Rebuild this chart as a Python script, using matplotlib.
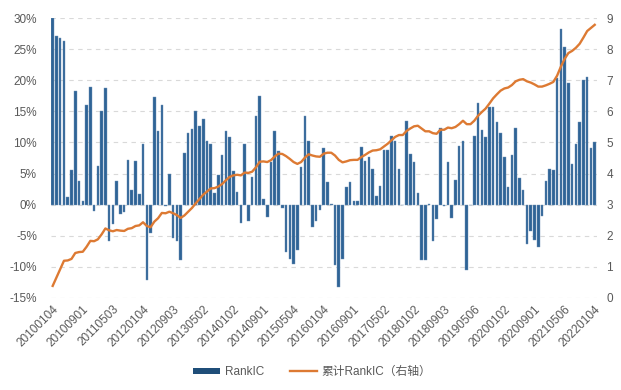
import matplotlib
matplotlib.use("Agg")
import matplotlib.pyplot as plt
import numpy as np
from matplotlib.lines import Line2D
from matplotlib.patches import Patch

plt.rcParams['font.family'] = ['Liberation Sans', 'Noto Sans CJK SC', 'DejaVu Sans']

# Monthly RankIC (%) from 2010-01 to 2022-01
rankic = [
    30.0, 27.2, 26.9, 26.4, 1.2, 5.5, 18.3, 3.8, 0.6, 16.1,
    18.9, -1.1, 6.2, 15.1, 18.7, -5.8, -3.2, 3.8, -1.5, -1.2,
    7.2, 2.3, 7.0, 1.7, 9.7, -12.1, -4.5, 17.4, 11.8, 16.1,
    -0.2, 4.9, -5.4, -5.9, -9.0, 8.3, 11.5, 12.2, 15.1, 12.7,
    13.8, 10.3, 9.8, 1.8, 4.8, 8.0, 11.9, 10.9, 5.4, 2.0,
    -2.9, 9.7, -2.7, 4.4, 14.2, 17.5, 0.9, -2.0, 6.9, 11.9,
    8.6, -0.6, -7.7, -8.7, -9.6, -7.3, 6.0, 14.2, 10.3, -3.6,
    -2.7, -0.8, 9.1, 3.6, 0.1, -9.7, -13.3, -8.7, 2.8, 3.7,
    0.5, 0.6, 9.3, 7.0, 7.7, 5.7, 1.3, 3.0, 8.8, 8.8,
    11.0, 10.3, 5.7, 0.0, 13.4, 8.2, 6.8, 1.9, -8.9, -8.9,
    0.1, -5.9, -2.3, 12.4, -0.3, 6.8, -2.1, 3.9, 9.5, 10.3,
    -10.5, -0.1, 11.1, 16.3, 12.0, 10.9, 15.7, 15.7, 13.3, 11.6,
    7.6, 2.8, 8.0, 12.3, 4.2, 2.3, -6.4, -4.3, -5.7, -6.9,
    -1.8, 3.8, 5.8, 5.5, 20.4, 28.3, 25.3, 19.5, 6.5, 9.7,
    13.3, 20.1, 20.6, 9.1, 10.0,
]

# Cumulative RankIC (right axis)
cum_rankic = [
    0.38, 0.65, 0.92, 1.19, 1.20, 1.25, 1.44, 1.47, 1.48, 1.64,
    1.83, 1.82, 1.88, 2.04, 2.23, 2.17, 2.14, 2.18, 2.16, 2.15,
    2.22, 2.24, 2.31, 2.33, 2.43, 2.31, 2.27, 2.45, 2.56, 2.73,
    2.72, 2.77, 2.72, 2.66, 2.57, 2.65, 2.77, 2.89, 3.04, 3.18,
    3.32, 3.42, 3.52, 3.53, 3.58, 3.66, 3.78, 3.89, 3.94, 3.96,
    3.94, 4.03, 4.02, 4.06, 4.20, 4.38, 4.39, 4.37, 4.43, 4.55,
    4.64, 4.63, 4.56, 4.47, 4.37, 4.31, 4.37, 4.51, 4.62, 4.58,
    4.55, 4.54, 4.64, 4.67, 4.67, 4.58, 4.44, 4.36, 4.39, 4.43,
    4.44, 4.44, 4.53, 4.60, 4.68, 4.74, 4.75, 4.78, 4.87, 4.96,
    5.07, 5.18, 5.24, 5.24, 5.37, 5.45, 5.52, 5.54, 5.45, 5.36,
    5.36, 5.30, 5.28, 5.41, 5.41, 5.48, 5.46, 5.50, 5.59, 5.70,
    5.59, 5.59, 5.70, 5.86, 5.98, 6.09, 6.25, 6.42, 6.55, 6.67,
    6.74, 6.77, 6.85, 6.97, 7.02, 7.04, 6.97, 6.93, 6.87, 6.80,
    6.80, 6.84, 6.89, 6.95, 7.15, 7.44, 7.69, 7.88, 7.95, 8.05,
    8.18, 8.38, 8.59, 8.69, 8.79,
]

tick_labels = [
    "20100104", "20100901", "20110503", "20120104", "20120903",
    "20130502", "20140102", "20140901", "20150504", "20160104",
    "20160901", "20170502", "20180102", "20180903", "20190506",
    "20200102", "20200901", "20210506", "20220104",
]

x = np.arange(len(rankic))
bar_color = '#2F6496'
line_color = '#DD7A33'
txt_color = '#595959'
fs = 8.5

fig = plt.figure(figsize=(6.21, 3.90), dpi=100)
ax = fig.add_axes([50.8 / 621, 1 - 297.7 / 390, (596.6 - 50.8) / 621, (297.7 - 18.3) / 390])
ax2 = ax.twinx()

ax.bar(x, np.array(rankic) / 100.0, width=0.68, color=bar_color,
       edgecolor='#6F93B8', linewidth=0.3, zorder=2)
ax2.plot(x, cum_rankic, color=line_color, lw=1.7, zorder=3)

ax.set_xlim(-0.5, len(rankic) - 0.5)
ax.set_ylim(-0.15, 0.30)
ax2.set_ylim(0, 9)

yt = np.arange(-0.15, 0.301, 0.05)
ax.set_yticks(yt)
ax.set_yticklabels([f"{int(round(v * 100))}%" for v in yt])
ax2.set_yticks(range(0, 10))

ax.yaxis.grid(True, linestyle=(0, (4, 4)), color='#D9D9D9', lw=0.8, zorder=0)
ax.set_axisbelow(True)

for a in (ax, ax2):
    for s in a.spines.values():
        s.set_visible(False)
    a.tick_params(length=0, colors=txt_color, labelsize=fs)

ax.tick_params(axis='y', pad=10)
ax2.tick_params(axis='y', pad=7)

tick_pos = list(range(0, len(rankic), 8))
ax.set_xticks(tick_pos)
ax.set_xticklabels(tick_labels, rotation=45, ha='right', rotation_mode='anchor')
ax.tick_params(axis='x', pad=4)

ax.set_zorder(ax2.get_zorder() - 1)
ax.patch.set_visible(True)
ax2.patch.set_visible(False)

handles = [
    Patch(facecolor='#1F4E79', edgecolor='none'),
    Line2D([0], [0], color=line_color, lw=1.7),
]
fig.legend(handles, ['RankIC', '累计RankIC（右轴）'], loc='center',
           bbox_to_anchor=(312 / 621, 1 - 372 / 390), ncol=2, frameon=False,
           fontsize=fs, labelcolor=txt_color, handlelength=2.3, handleheight=0.45,
           columnspacing=2.2, handletextpad=0.4)

fig.savefig('out.png', dpi=100)
